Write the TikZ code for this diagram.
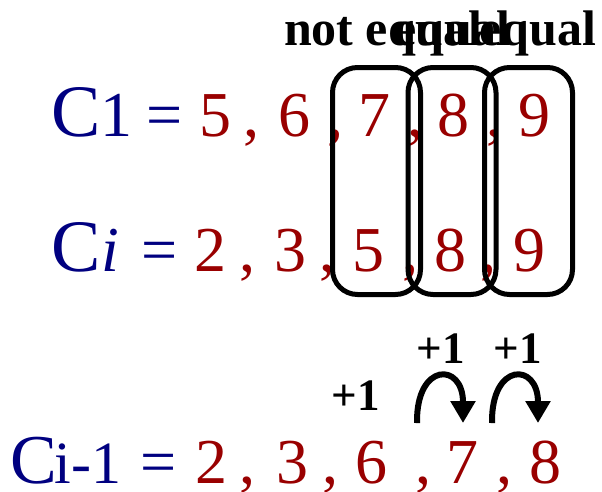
\documentclass[tikz,border=0pt]{standalone}
\usepackage{fontspec}
\setmainfont{Liberation Serif}
\usetikzlibrary{arrows.meta}
\definecolor{cblue}{RGB}{0,0,128}
\definecolor{cred}{RGB}{153,0,0}
\begin{document}
\begin{tikzpicture}[x=1pt,y=-1pt,
  every node/.style={inner sep=0pt,outer sep=0pt,anchor=base},
  cbig/.style={text=cblue,font=\fontsize{74}{74}\selectfont},
  csym/.style={text=cblue,font=\fontsize{64}{64}\selectfont},
  num/.style={text=cred,font=\fontsize{64}{64}\selectfont},
  lab/.style={font=\fontsize{50}{50}\selectfont\bfseries},
  inc/.style={font=\fontsize{45}{45}\selectfont\bfseries},
  grp/.style={draw,line width=5pt,rounded corners=25pt,minimum width=88pt,minimum height=227pt,anchor=center},
  uarrow/.style={line width=6pt,-{Triangle[length=22pt,width=24pt]}}]
\useasboundingbox (0,0) rectangle (602,491);
% row 1
\node[cbig] (aC) at (76.5,136) {C};
\node[csym] (aS) at (116,136) {1};
\node[csym] (aEq) at (165,136) {=};
\node[num] (a1) at (215,136) {5};
\node[num] (ak1) at (251,136) {,};
\node[num] (a2) at (294,136) {6};
\node[num] (ak2) at (335,136) {,};
\node[num] (a3) at (374,136) {7};
\node[num] (ak3) at (415,136) {,};
\node[num] (a4) at (453,136) {8};
\node[num] (ak4) at (494,136) {,};
\node[num] (a5) at (534,136) {9};
% row 2
\node[cbig] (bC) at (76.5,271) {C};
\node[csym] (bS) at (110,271) {\itshape i};
\node[csym] (bEq) at (160,271) {=};
\node[num] (b1) at (210,271) {2};
\node[num] (bk1) at (247,271) {,};
\node[num] (b2) at (290,271) {3};
\node[num] (bk2) at (327,271) {,};
\node[num] (b3) at (368,271) {5};
\node[num] (bk3) at (410,271) {,};
\node[num] (b4) at (450,271) {8};
\node[num] (bk4) at (488,271) {,};
\node[num] (b5) at (529,271) {9};
% row 3
\node[cbig,font=\fontsize{70}{70}\selectfont] (cC) at (34,483) {C};
\node[csym,font=\fontsize{60}{60}\selectfont] (cS) at (88,483) {i-1};
\node[csym] (cEq) at (159,483) {=};
\node[num] (c1) at (211.5,483) {2};
\node[num] (ck1) at (247,483) {,};
\node[num] (c2) at (292.5,483) {3};
\node[num] (ck2) at (330,483) {,};
\node[num] (c3) at (371.5,483) {6};
\node[num] (ck3) at (423,483) {,};
\node[num] (c4) at (462.5,483) {7};
\node[num] (ck4) at (504,483) {,};
\node[num] (c5) at (545.5,483) {8};
% boxes
\node[grp] (g1) at (376.5,181) {};
\node[grp] (g2) at (452,181) {};
\node[grp] (g3) at (528.5,181) {};
% labels
\node[lab,anchor=base west] (l1) at (284,45) {not equal};
\node[lab,anchor=base west] (l2) at (394,45) {equal};
\node[lab,anchor=base east] (l3) at (596,45) {equal};
% increments
\node[inc] (p0) at (356,410) {+1};
\node[inc] (p1) at (441,363) {+1};
\node[inc] (p2) at (517.5,363) {+1};
\coordinate (s1) at (417,423);
\coordinate (e1) at (463,423);
\coordinate (s2) at (492,423);
\coordinate (e2) at (538,423);
\draw[uarrow] (s1) .. controls (416,362) and (463,362) .. (e1);
\draw[uarrow] (s2) .. controls (491,362) and (538,362) .. (e2);
\end{tikzpicture}
\end{document}
